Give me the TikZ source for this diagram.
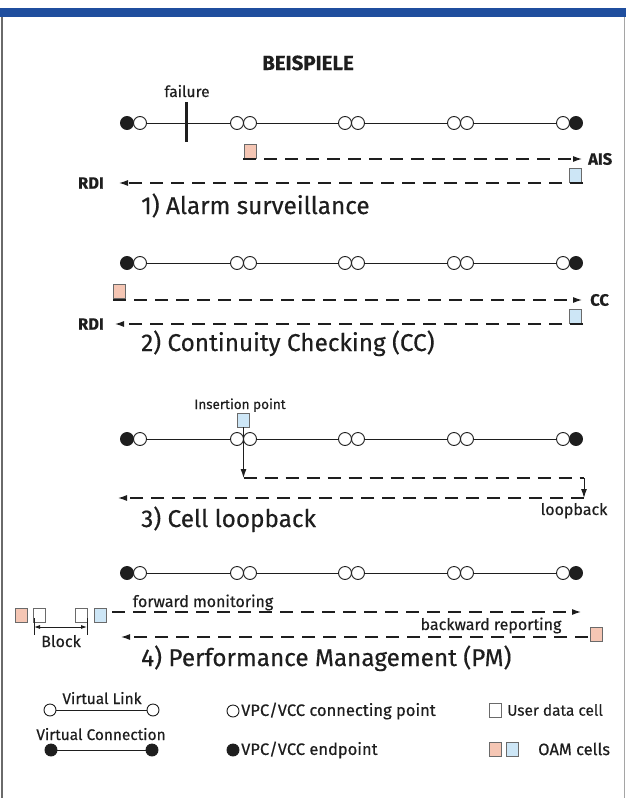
\documentclass[tikz,border=0pt]{standalone}
\usepackage{fontspec}
\setmainfont{Fira Sans}[FakeBold=0.4]
\usetikzlibrary{arrows.meta}
\definecolor{barblue}{HTML}{1F4E9E}
\definecolor{oampink}{HTML}{F5C6B4}
\definecolor{oamblue}{HTML}{CDE6F6}
\definecolor{ink}{HTML}{1E1E1E}
\definecolor{framegray}{HTML}{6A6A6A}
\newcommand\vcrow[2]{%
  \node[ep] (#2e1) at (127,#1) {};
  \node[cp] (#2c1) at (140,#1) {};
  \node[cp] (#2c2) at (237,#1) {};
  \node[cp] (#2c3) at (250,#1) {};
  \node[cp] (#2c4) at (345,#1) {};
  \node[cp] (#2c5) at (358,#1) {};
  \node[cp] (#2c6) at (454,#1) {};
  \node[cp] (#2c7) at (467,#1) {};
  \node[cp] (#2c8) at (563,#1) {};
  \node[ep] (#2e2) at (576,#1) {};
  \draw[link] (#2c1) -- (#2c2);
  \draw[link] (#2c3) -- (#2c4);
  \draw[link] (#2c5) -- (#2c6);
  \draw[link] (#2c7) -- (#2c8);
}
\begin{document}
\begin{tikzpicture}[x=1pt,y=-1pt,
  cp/.style={circle,draw=ink,line width=0.9pt,fill=white,inner sep=0pt,minimum size=13pt},
  ep/.style={circle,fill=ink,draw=ink,line width=0.9pt,inner sep=0pt,minimum size=13pt},
  cellbox/.style={draw=framegray,line width=0.7pt,inner sep=0pt,minimum width=12pt,minimum height=14pt},
  pinkcell/.style={cellbox,fill=oampink},
  bluecell/.style={cellbox,fill=oamblue},
  usercell/.style={cellbox,fill=white},
  link/.style={draw=ink,line width=0.9pt},
  flow/.style={draw=ink,line width=1.1pt,dash pattern=on 13pt off 8pt,-{Latex[length=9pt,width=6pt]}},
  flowplain/.style={draw=ink,line width=1.1pt,dash pattern=on 13pt off 8pt},
  solidarrow/.style={draw=ink,line width=1pt,-{Latex[length=9pt,width=6pt]}},
  lab/.style={font=\fontsize{16}{19}\selectfont,text=ink,inner sep=0pt},
  leg/.style={font=\fontsize{16.5}{19}\selectfont,text=ink,inner sep=0pt},
  legs/.style={font=\fontsize{15.4}{18}\selectfont,text=ink,inner sep=0pt},
  blab/.style={font=\fontsize{16.5}{19}\selectfont\bfseries,text=ink,inner sep=0pt},
  ttl/.style={font=\fontsize{24.3}{28}\selectfont,text=ink,inner sep=0pt,anchor=base west},
]
\useasboundingbox (0,0) rectangle (626,798);
% frame
\fill[barblue] (0,8) rectangle (626,17);
\draw[framegray,line width=1.2pt] (2,17) -- (2,798);
\draw[framegray!60,line width=0.8pt] (624.5,17) -- (624.5,798);

\node[font=\fontsize{20.5}{24}\selectfont\bfseries,text=ink,inner sep=0pt,anchor=base] (head) at (308,70) {BEISPIELE};

% ---------- 1) Alarm surveillance
\vcrow{123}{a}
\node[font=\fontsize{15.5}{18}\selectfont,text=ink,inner sep=0pt,anchor=base] (fail) at (187,97) {failure};
\coordinate (failtop) at (186,102);
\coordinate (failbot) at (186,142);
\draw[ink,line width=3pt] (failtop) -- (failbot);
\node[pinkcell] (apink) at (250,151) {};
\coordinate (aisstart) at (243,159);
\node[blab,anchor=west] (ais) at (588,159) {AIS};
\draw[flow,shorten >=6pt] (aisstart) -- (ais.west);
\node[bluecell] (ablue) at (575,175) {};
\coordinate (ardistart) at (583,183);
\node[blab,anchor=east] (ardi) at (104,183) {RDI};
\draw[flow,shorten >=15pt] (ardistart) -- (ardi.east);
\node[ttl] (t1) at (141,214) {1) Alarm surveillance};

% ---------- 2) Continuity Checking
\vcrow{263}{b}
\node[pinkcell] (bpink) at (119,291) {};
\coordinate (ccstart) at (113,300);
\node[blab,anchor=west] (cc) at (590,300) {CC};
\draw[flow,shorten >=8pt] (ccstart) -- (cc.west);
\node[bluecell] (bblue) at (575,316) {};
\coordinate (brdistart) at (583,324);
\node[blab,anchor=east] (brdi) at (104,324) {RDI};
\draw[flow,shorten >=11pt] (brdistart) -- (brdi.east);
\node[ttl] (t2) at (141,351) {2) Continuity Checking (CC)};

% ---------- 3) Cell loopback
\vcrow{439}{c}
\node[font=\fontsize{13.5}{16}\selectfont,text=ink,inner sep=0pt,anchor=base] (ins) at (240,409) {Insertion point};
\node[bluecell] (cblue) at (243.5,420) {};
\coordinate (cdown) at (243.5,478);
\coordinate (cright) at (584,478);
\coordinate (cdown2) at (584,498);
\coordinate (cback) at (118,498);
\draw[solidarrow] (cblue.south) -- (cdown);
\draw[flowplain] (cdown) -- (cright);
\draw[solidarrow] (cright) -- (cdown2);
\draw[flow] (cdown2) -- (cback);
\node[lab,anchor=base] (loop) at (574,515) {loopback};
\node[ttl] (t3) at (141,527) {3) Cell loopback};

% ---------- 4) Performance Management
\vcrow{573}{d}
\node[pinkcell] (dp1) at (21,615) {};
\node[usercell] (du1) at (39,615) {};
\node[usercell] (du2) at (81,615) {};
\node[bluecell] (db1) at (100,615) {};
\coordinate (fwdstart) at (112,612);
\coordinate (fwdend) at (581,612);
\draw[flow] (fwdstart) -- (fwdend);
\node[lab,anchor=base] (fwd) at (203,607) {forward monitoring};
\node[pinkcell] (dp2) at (596,634) {};
\coordinate (bwdstart) at (588,637);
\coordinate (bwdend) at (121,637);
\draw[flow] (bwdstart) -- (bwdend);
\node[lab,anchor=base] (bwd) at (491,630) {backward reporting};
\coordinate (blkL) at (34,627);
\coordinate (blkR) at (87,627);
\draw[ink,line width=0.6pt] (34,618) -- (34,635);
\draw[ink,line width=0.6pt] (87,618) -- (87,635);
\draw[ink,line width=0.9pt,{Latex[length=6pt,width=4pt]}-{Latex[length=6pt,width=4pt]}] (blkL) -- (blkR);
\node[lab,anchor=base] (blk) at (61,647) {Block};
\node[ttl] (t4) at (141,666) {4) Performance Management (PM)};

% ---------- legend
\node[cp,minimum size=12pt] (vl1) at (50,710) {};
\node[cp,minimum size=12pt] (vl2) at (153,710) {};
\draw[link] (vl1) -- (vl2);
\node[legs,anchor=base] (vlt) at (102,704) {Virtual Link};
\node[legs,anchor=base] (vct) at (101,740) {Virtual Connection};
\node[ep,minimum size=12pt] (vc1) at (51,750) {};
\node[ep,minimum size=12pt] (vc2) at (152,750) {};
\draw[link] (vc1) -- (vc2);

\node[cp,minimum size=12pt] (lcp) at (233,711) {};
\node[leg,anchor=west] (lcpt) at (241,711) {VPC/VCC connecting point};
\node[ep,minimum size=12pt] (lep) at (233,750) {};
\node[leg,anchor=west] (lept) at (241,750) {VPC/VCC endpoint};

\node[usercell] (luc) at (495,710) {};
\node[legs,anchor=west] (luct) at (507,710) {User data cell};
\node[pinkcell] (lpink) at (495,749) {};
\node[bluecell] (lblue) at (512,749) {};
\node[leg,anchor=west] (loamt) at (538,749) {OAM cells};
\end{tikzpicture}
\end{document}
